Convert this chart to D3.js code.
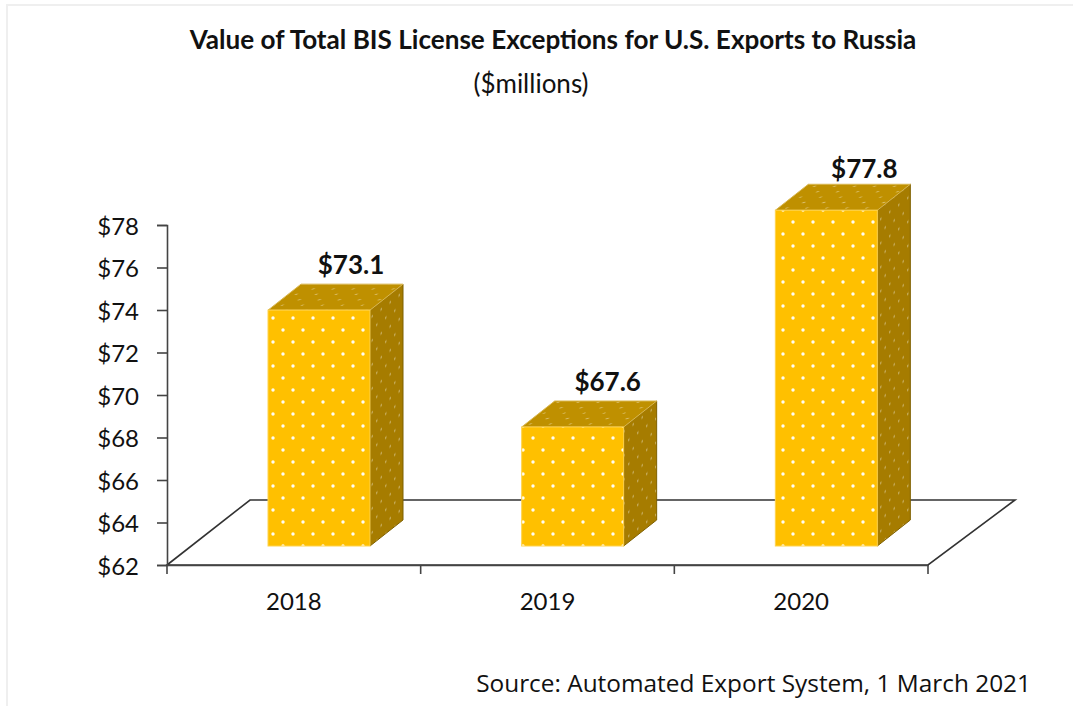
<!DOCTYPE html>
<html lang="en">
<head>
  <meta charset="UTF-8">
  <title>BIS License Exceptions</title>
  <script src="https://cdn.jsdelivr.net/npm/d3@7"></script>
  <style>
    html, body { margin: 0; padding: 0; background: #fff; }
    svg { display: block; }
    text { fill: #111; }
  </style>
</head>
<body>
  <svg class="svg" width="1073" height="706"></svg>
  <script>
    const years = ["2018", "2019", "2020"]
    const values = [73.1, 67.6, 77.8]
    const valueLabels = ["$73.1", "$67.6", "$77.8"]
    const yTicks = [62, 64, 66, 68, 70, 72, 74, 76, 78]

    const svg = d3.select(".svg")
    const sans = "Lato, Carlito, sans-serif"

    const x = d3.scaleBand().domain(years).range([167, 928])
    const y = d3.scaleLinear().domain([62, 78]).range([565, 225])

    // 3d offsets, all in px
    const floorOff = {dx: 83, dy: -65}
    const bar = {width: 102, front: 101, dx: 33, dy: -26, lift: -19}
    // labels were hand placed in the original
    const nudgeX = [0, 3, 6]
    const nudgeY = [0, 0, 4]

    const defs = svg.append("defs")
    const dots = (id, fill, op, r, transform) => {
      const p = defs.append("pattern")
        .attr("id", id)
        .attr("patternUnits", "userSpaceOnUse")
        .attr("width", 20).attr("height", 24)
        .attr("patternTransform", transform)
      p.append("rect").attr("width", 20).attr("height", 24).attr("fill", fill)
      p.selectAll("circle").data([[5, 6], [15, 18]]).join("circle")
        .attr("cx", d => d[0]).attr("cy", d => d[1]).attr("r", r)
        .attr("fill", "#fff").attr("fill-opacity", op)
    }
    dots("dotFront", "#ffc000", 0.95, 1.7, "translate(268,0)")
    dots("dotSide", "#a67c00", 0.4, 1.5, "translate(370,0) skewY(-38) scale(0.45,1)")
    dots("dotTop", "#bf9000", 0.4, 1.5, "translate(268,0) skewX(-52) scale(1,0.45)")

    defs.append("filter").attr("id", "soft")
      .append("feGaussianBlur").attr("stdDeviation", 0.4)

    // frame of the pasted picture
    svg.append("path")
      .attr("d", "M7,706V5H1073")
      .attr("fill", "none").attr("stroke", "#efefef").attr("stroke-width", 2)

    // floor
    const floorG = svg.append("g").attr("filter", "url(#soft)")
    const x0 = x.range()[0], x1 = x.range()[1], yb = y(62)
    floorG.append("path")
      .attr("d", d3.line()([[x0, yb], [x0 + floorOff.dx, yb + floorOff.dy], [x1 + floorOff.dx + 4, yb + floorOff.dy], [x1, yb]]) + "Z")
      .attr("fill", "#fff").attr("stroke", "#333").attr("stroke-width", 1.6)

    // axes
    const yAxis = d3.axisLeft(y).tickValues(yTicks).tickFormat(d => "$" + d).tickSize(10).tickPadding(18)
    const gy = svg.append("g").attr("transform", `translate(${x0},0)`).call(yAxis)
    const xAxis = d3.axisBottom(x).tickSize(0).tickPadding(28)
    const gx = svg.append("g").attr("transform", `translate(0,${yb})`).call(xAxis)
    gx.selectAll(".xtick").data(d3.range(years.length + 1)).join("line")
      .attr("class", "xtick")
      .attr("x1", i => x0 + i * x.step()).attr("x2", i => x0 + i * x.step())
      .attr("y1", 0).attr("y2", 9)
      .attr("stroke", "#444").attr("stroke-width", 1.6)
    for (const g of [gy, gx]) {
      g.attr("font-family", sans).attr("font-size", 24)
      g.selectAll("text").attr("fill", "#111")
      g.selectAll(".domain, .tick line").attr("stroke", "#444").attr("stroke-width", 1.6)
    }
    gy.selectAll("text").attr("dy", "0.39em")

    // bars
    const bars = svg.append("g").attr("filter", "url(#soft)")
      .selectAll("g").data(years).join("g")
    const barLeft = d => x(d) + bar.front
    const barTop = (d, i) => y(values[i]) + bar.lift
    const base = yb + bar.lift

    bars.append("path")
      .attr("d", (d, i) => {
        const l = barLeft(d), r = l + bar.width, t = barTop(d, i)
        return `M${r},${t}L${r + bar.dx},${t + bar.dy}V${base + bar.dy}L${r},${base}Z`
      })
      .attr("fill", "url(#dotSide)").attr("stroke", "#7f6000").attr("stroke-width", 1)
    bars.append("path")
      .attr("d", (d, i) => {
        const l = barLeft(d), r = l + bar.width, t = barTop(d, i)
        return `M${l},${t}L${l + bar.dx},${t + bar.dy}H${r + bar.dx}L${r},${t}Z`
      })
      .attr("fill", "url(#dotTop)").attr("stroke", "#d9b650").attr("stroke-width", 1)
    bars.append("rect")
      .attr("x", barLeft).attr("y", barTop)
      .attr("width", bar.width).attr("height", (d, i) => base - barTop(d, i))
      .attr("fill", "url(#dotFront)").attr("stroke", "#ffd34d").attr("stroke-width", 1)

    // value labels
    svg.append("g").selectAll("text").data(years).join("text")
      .attr("x", (d, i) => barLeft(d) + bar.width / 2 + 32 + nudgeX[i])
      .attr("y", (d, i) => barTop(d, i) - 36 + nudgeY[i])
      .attr("text-anchor", "middle")
      .attr("font-family", sans).attr("font-size", 26).attr("font-weight", 700)
      .text((d, i) => valueLabels[i])

    // titles
    svg.append("text").attr("x", 553).attr("y", 49).attr("text-anchor", "middle")
      .attr("font-family", sans).attr("font-size", 26.1).attr("font-weight", 700)
      .text("Value of Total BIS License Exceptions for U.S. Exports to Russia")
    svg.append("text").attr("x", 531).attr("y", 93).attr("text-anchor", "middle")
      .attr("font-family", sans).attr("font-size", 26)
      .text("($millions)")
    svg.append("text").attr("x", 1031).attr("y", 692).attr("text-anchor", "end")
      .attr("font-family", "'Open Sans', sans-serif").attr("font-size", 24.4)
      .attr("fill", "#333")
      .text("Source: Automated Export System, 1 March 2021")
  </script>
</body>
</html>
